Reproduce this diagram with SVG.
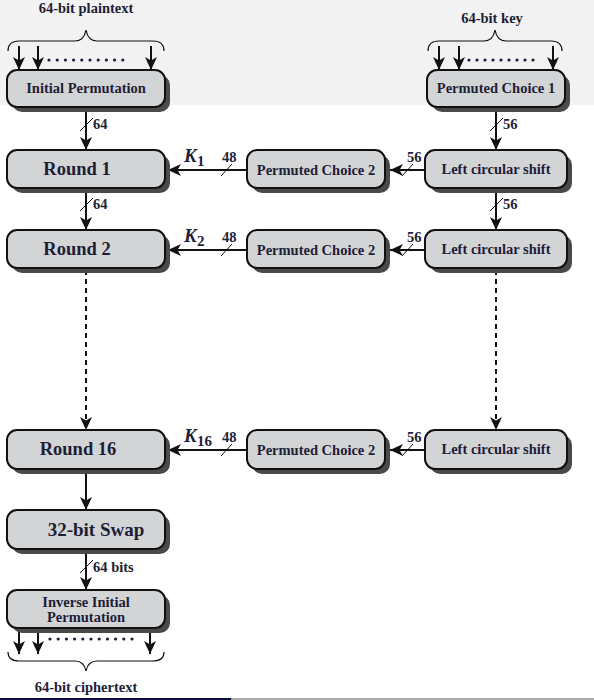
<svg xmlns="http://www.w3.org/2000/svg" width="594" height="700" viewBox="0 0 594 700">
<defs>
<marker id="ah" markerUnits="userSpaceOnUse" markerWidth="14" markerHeight="12" refX="13" refY="6" orient="auto">
<path d="M0,0 L13,6 L0,12 L3.5,6 z" fill="#111"/>
</marker>
<style>
.sh{fill:#4a4a4a}
.bx{fill:#d3d4d6;stroke:#111;stroke-width:2}
.t{font-family:"Liberation Serif","Times New Roman",serif;font-weight:bold;fill:#1e1e36;text-anchor:middle}
.s{font-size:14.5px}
.r{font-size:18.5px}
.lb{font-family:"Liberation Serif","Times New Roman",serif;font-weight:bold;fill:#1e1e36;font-size:14.5px}
.k{font-family:"Liberation Serif","Times New Roman",serif;font-weight:bold;font-style:italic;fill:#1e1e36;font-size:19px}
.ks{font-family:"Liberation Serif","Times New Roman",serif;font-weight:bold;fill:#1e1e36;font-size:15px}
.ln{stroke:#111;stroke-width:2;fill:none}
.ar{stroke:#111;stroke-width:2;fill:none;marker-end:url(#ah)}
.da{stroke:#111;stroke-width:2;fill:none;stroke-dasharray:5 4;marker-end:url(#ah)}
.sl{stroke:#111;stroke-width:1;fill:none}
.br{stroke:#111;stroke-width:1.2;fill:none}
.dot{fill:#1e1e36}
</style>
</defs>
<rect x="0" y="0" width="594" height="700" fill="#ffffff"/>
<rect x="0" y="0" width="594" height="105" fill="#f2f2f2"/>
<rect x="0" y="698" width="231" height="2" fill="#0c0c40"/>
<rect x="231" y="698" width="363" height="2" fill="#a8a8a8"/>

<g id="input-plaintext">
<text class="t s" x="86" y="13">64-bit plaintext</text>
<path class="br" d="M8,51 Q8,41 19,41 L75,41 Q84,41 86,30 Q88,41 97,41 L153,41 Q164,41 164,51"/>
<g class="dot"><circle cx="49" cy="60" r="1.6"/><circle cx="57.2" cy="60" r="1.6"/><circle cx="65.4" cy="60" r="1.6"/><circle cx="73.6" cy="60" r="1.6"/><circle cx="81.8" cy="60" r="1.6"/><circle cx="90" cy="60" r="1.6"/><circle cx="98.2" cy="60" r="1.6"/><circle cx="106.4" cy="60" r="1.6"/><circle cx="114.6" cy="60" r="1.6"/><circle cx="122.8" cy="60" r="1.6"/></g>
</g>
<g id="input-key">
<text class="t s" x="492" y="23">64-bit key</text>
<path class="br" d="M428,51 Q428,41 439,41 L484,41 Q493,41 495,30 Q497,41 506,41 L551,41 Q562,41 562,51"/>
<g class="dot"><circle cx="469" cy="60" r="1.6"/><circle cx="477" cy="60" r="1.6"/><circle cx="485" cy="60" r="1.6"/><circle cx="493" cy="60" r="1.6"/><circle cx="501" cy="60" r="1.6"/><circle cx="509" cy="60" r="1.6"/><circle cx="517" cy="60" r="1.6"/><circle cx="525" cy="60" r="1.6"/><circle cx="533" cy="60" r="1.6"/></g>
</g>

<g id="connectors">
<line class="ar" x1="19" y1="46" x2="19" y2="70"/>
<line class="ar" x1="38" y1="46" x2="38" y2="70"/>
<line class="ar" x1="151" y1="46" x2="151" y2="70"/>
<line class="ar" x1="439" y1="46" x2="439" y2="70"/>
<line class="ar" x1="459" y1="46" x2="459" y2="70"/>
<line class="ar" x1="553" y1="46" x2="553" y2="70"/>

<line class="ar" x1="86" y1="108" x2="86" y2="150"/>
<line class="sl" x1="80" y1="131" x2="93" y2="118"/>
<text class="lb" x="93" y="129">64</text>
<line class="ar" x1="86" y1="189" x2="86" y2="230"/>
<line class="sl" x1="80" y1="211" x2="93" y2="198"/>
<text class="lb" x="93" y="209">64</text>
<line class="da" x1="86" y1="270" x2="86" y2="430"/>
<line class="ar" x1="86" y1="470" x2="86" y2="510"/>
<line class="ar" x1="86" y1="550" x2="86" y2="590"/>
<line class="sl" x1="80" y1="573" x2="93" y2="560"/>
<text class="lb" x="93" y="572">64 bits</text>

<line class="ar" x1="496" y1="108" x2="496" y2="150"/>
<line class="sl" x1="490" y1="131" x2="503" y2="118"/>
<text class="lb" x="503" y="129">56</text>
<line class="ar" x1="496" y1="189" x2="496" y2="230"/>
<line class="sl" x1="490" y1="211" x2="503" y2="198"/>
<text class="lb" x="503" y="209">56</text>
<line class="da" x1="496" y1="270" x2="496" y2="430"/>

<line class="ar" x1="247" y1="170" x2="168" y2="170"/>
<line class="sl" x1="221" y1="176" x2="232" y2="164"/>
<text class="lb" x="222" y="162">48</text>
<text class="k" x="184" y="162">K</text><text class="ks" x="197" y="166">1</text>
<line class="ar" x1="425" y1="170" x2="390" y2="170"/>
<line class="sl" x1="402" y1="176" x2="413" y2="164"/>
<text class="lb" x="407" y="162">56</text>

<line class="ar" x1="247" y1="250" x2="168" y2="250"/>
<line class="sl" x1="221" y1="256" x2="232" y2="244"/>
<text class="lb" x="222" y="242">48</text>
<text class="k" x="184" y="242">K</text><text class="ks" x="197" y="246">2</text>
<line class="ar" x1="425" y1="250" x2="390" y2="250"/>
<line class="sl" x1="402" y1="256" x2="413" y2="244"/>
<text class="lb" x="407" y="242">56</text>

<line class="ar" x1="247" y1="450" x2="168" y2="450"/>
<line class="sl" x1="221" y1="456" x2="232" y2="444"/>
<text class="lb" x="222" y="442">48</text>
<text class="k" x="184" y="442">K</text><text class="ks" x="197" y="446">16</text>
<line class="ar" x1="425" y1="450" x2="390" y2="450"/>
<line class="sl" x1="402" y1="456" x2="413" y2="444"/>
<text class="lb" x="407" y="442">56</text>

<line class="ar" x1="19" y1="628" x2="19" y2="654"/>
<line class="ar" x1="38" y1="628" x2="38" y2="654"/>
<line class="ar" x1="150" y1="628" x2="150" y2="654"/>
</g>

<g id="ip">
<rect class="sh" x="12" y="75" width="158" height="37" rx="10"/>
<rect class="bx" x="7" y="70" width="158" height="37" rx="10"/>
<text class="t s" x="86" y="93">Initial Permutation</text>
</g>
<g id="pc1">
<rect class="sh" x="432" y="75" width="138" height="37" rx="10"/>
<rect class="bx" x="427" y="70" width="138" height="37" rx="10"/>
<text class="t s" x="496" y="93">Permuted Choice 1</text>
</g>

<g id="round1">
<rect class="sh" x="12" y="155" width="158" height="38" rx="10"/>
<rect class="bx" x="7" y="150" width="158" height="38" rx="10"/>
<text class="t r" x="77" y="175">Round 1</text>
</g>
<g id="pc2-1">
<rect class="sh" x="252" y="155" width="138" height="38" rx="10"/>
<rect class="bx" x="247" y="150" width="138" height="38" rx="10"/>
<text class="t s" x="316" y="175">Permuted Choice 2</text>
</g>
<g id="lcs-1">
<rect class="sh" x="430" y="155" width="142" height="38" rx="10"/>
<rect class="bx" x="425" y="150" width="142" height="38" rx="10"/>
<text class="t s" x="496" y="174">Left circular shift</text>
</g>

<g id="round2">
<rect class="sh" x="12" y="235" width="158" height="38" rx="10"/>
<rect class="bx" x="7" y="230" width="158" height="38" rx="10"/>
<text class="t r" x="77" y="255">Round 2</text>
</g>
<g id="pc2-2">
<rect class="sh" x="252" y="235" width="138" height="38" rx="10"/>
<rect class="bx" x="247" y="230" width="138" height="38" rx="10"/>
<text class="t s" x="316" y="255">Permuted Choice 2</text>
</g>
<g id="lcs-2">
<rect class="sh" x="430" y="235" width="142" height="38" rx="10"/>
<rect class="bx" x="425" y="230" width="142" height="38" rx="10"/>
<text class="t s" x="496" y="254">Left circular shift</text>
</g>

<g id="round16">
<rect class="sh" x="12" y="435" width="158" height="39" rx="10"/>
<rect class="bx" x="7" y="430" width="158" height="39" rx="10"/>
<text class="t r" x="78" y="455">Round 16</text>
</g>
<g id="pc2-16">
<rect class="sh" x="252" y="435" width="138" height="39" rx="10"/>
<rect class="bx" x="247" y="430" width="138" height="39" rx="10"/>
<text class="t s" x="316" y="455">Permuted Choice 2</text>
</g>
<g id="lcs-16">
<rect class="sh" x="430" y="435" width="142" height="39" rx="10"/>
<rect class="bx" x="425" y="430" width="142" height="39" rx="10"/>
<text class="t s" x="496" y="454">Left circular shift</text>
</g>

<g id="swap">
<rect class="sh" x="12" y="515" width="158" height="39" rx="10"/>
<rect class="bx" x="7" y="510" width="158" height="39" rx="10"/>
<text class="t" style="font-size:19px" x="96" y="536">32-bit Swap</text>
</g>
<g id="iip">
<rect class="sh" x="12" y="595" width="158" height="38" rx="10"/>
<rect class="bx" x="7" y="590" width="158" height="38" rx="10"/>
<text class="t s" x="86" y="607">Inverse Initial</text>
<text class="t s" x="86" y="622">Permutation</text>
</g>

<g id="output-ciphertext">
<g class="dot"><circle cx="50" cy="639" r="1.6"/><circle cx="58.2" cy="639" r="1.6"/><circle cx="66.4" cy="639" r="1.6"/><circle cx="74.6" cy="639" r="1.6"/><circle cx="82.8" cy="639" r="1.6"/><circle cx="91" cy="639" r="1.6"/><circle cx="99.2" cy="639" r="1.6"/><circle cx="107.4" cy="639" r="1.6"/><circle cx="115.6" cy="639" r="1.6"/><circle cx="123.8" cy="639" r="1.6"/><circle cx="132" cy="639" r="1.6"/></g>
<path class="br" d="M8,652 Q8,661 19,661 L75,661 Q84,661 86,671 Q88,661 97,661 L153,661 Q164,661 164,652"/>
<text class="t s" x="86" y="692">64-bit ciphertext</text>
</g>
</svg>
